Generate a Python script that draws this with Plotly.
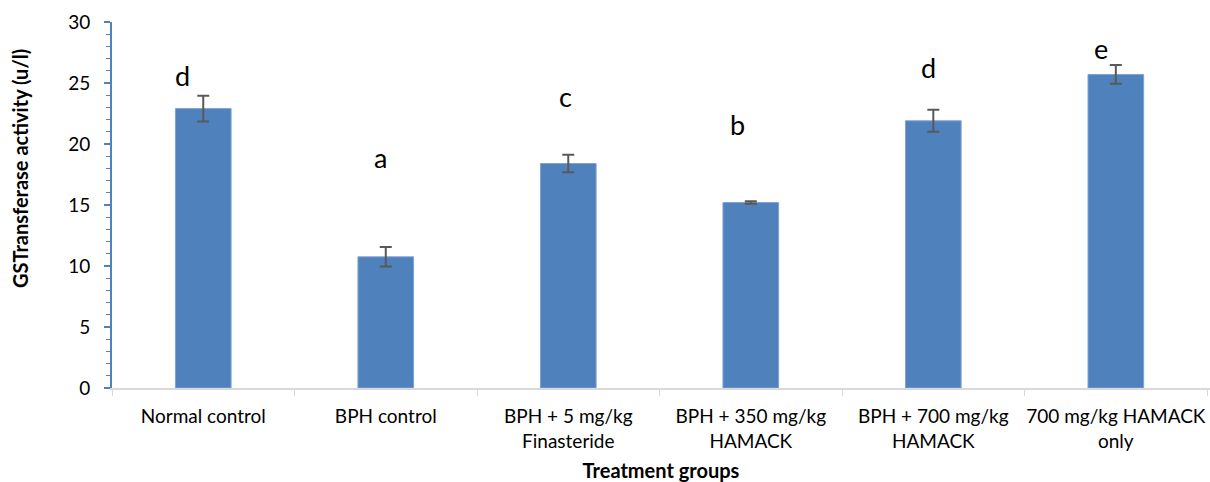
import plotly.graph_objects as go

categories = ["Normal control", "BPH control", "BPH + 5 mg/kg<br>Finasteride",
              "BPH + 350 mg/kg<br>HAMACK", "BPH + 700 mg/kg<br>HAMACK", "700 mg/kg HAMACK<br>only"]
values = [22.9, 10.75, 18.4, 15.2, 21.9, 25.7]
errors = [1.05, 0.8, 0.72, 0.1, 0.9, 0.77]
letters = ["d", "a", "c", "b", "d", "e"]
letter_y = [25.6, 18.9, 23.9, 21.6, 26.3, 27.8]
letter_xshift = [-21, -5, -3, -13, -5, -15]

font_family = "Lato, 'Open Sans', sans-serif"

fig = go.Figure()
fig.add_trace(go.Bar(
    x=categories, y=values,
    marker=dict(color="#4f81bd", line=dict(color="#7fa3d1", width=1)),
    error_y=dict(type="data", array=errors, visible=True, color="#595959", thickness=2, width=6),
    width=0.305,
    showlegend=False,
))

for c, l, ly, xs in zip(categories, letters, letter_y, letter_xshift):
    fig.add_annotation(x=c, y=ly, text=l, showarrow=False, xshift=xs,
                       font=dict(size=27, color="#000000", family=font_family))

# y-axis title placed as a rotated annotation (offset upward as in the reference)
fig.add_annotation(xref="paper", yref="paper", x=-0.0838, y=0.601,
                   xanchor="center", yanchor="middle", textangle=-90, showarrow=False,
                   text="<b>GSTransferase activity (u/l)</b>",
                   font=dict(size=20, color="#000000", family=font_family))

fig.update_layout(
    width=1210, height=482,
    margin=dict(l=112, r=0, t=22, b=94),
    plot_bgcolor="white", paper_bgcolor="white",
    font=dict(family=font_family, color="#000000"),
    xaxis=dict(
        type="category",
        range=[-0.5, 5.516],
        automargin=False,
        tickangle=0,
        showline=True, linecolor="#d9d9d9", linewidth=2,
        ticks="outside", tickson="boundaries", ticklen=6, tickcolor="#d9d9d9", tickwidth=1,
        tickfont=dict(size=19, color="#000000"),
        ticklabelstandoff=10,
        title=dict(text="<b>Treatment groups</b>", font=dict(size=20, color="#000000"), standoff=15),
        showgrid=False,
    ),
    yaxis=dict(
        range=[0, 30], dtick=5,
        automargin=False,
        showline=True, linecolor="#4f81bd", linewidth=2,
        ticks="outside", ticklen=6, tickcolor="#4f81bd", tickwidth=2,
        minor=dict(dtick=1, ticks="outside", ticklen=4, tickcolor="#4f81bd", tickwidth=1),
        tickfont=dict(size=19, color="#000000"),
        ticklabelstandoff=10,
        showgrid=False, zeroline=False,
    ),
)

fig.write_html("out.html")
